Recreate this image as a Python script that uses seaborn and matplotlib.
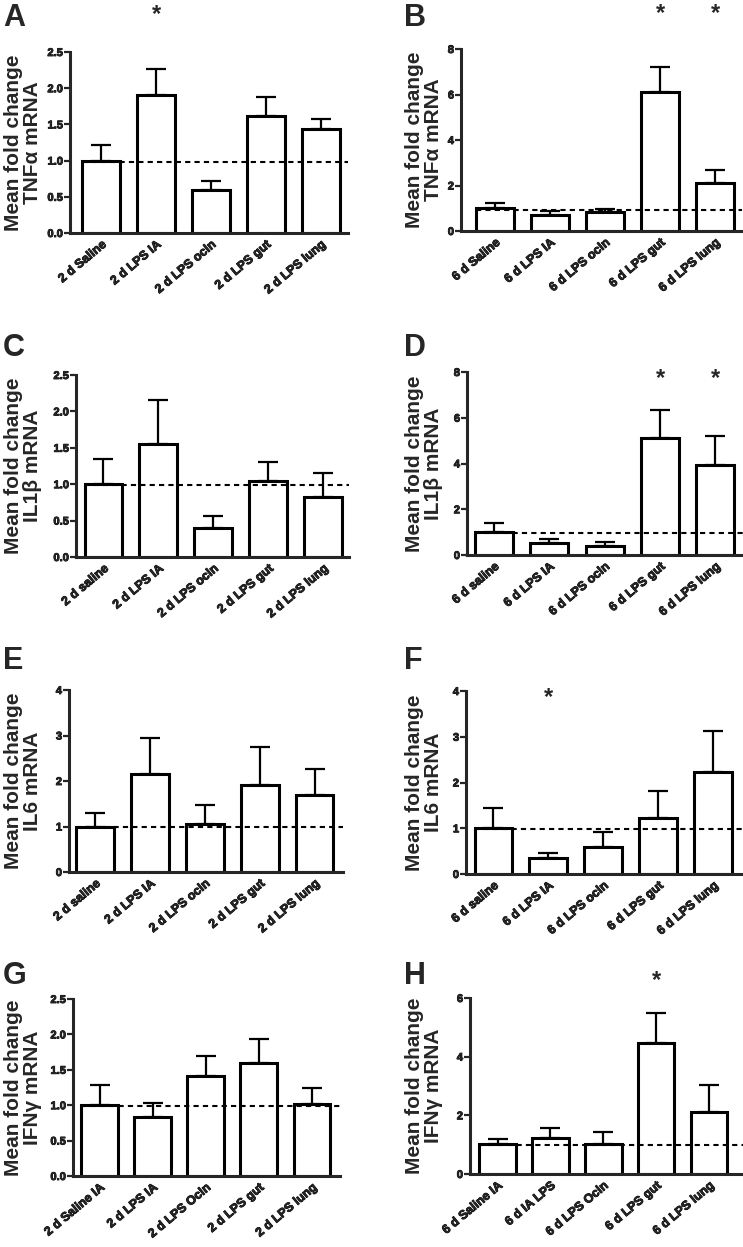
import matplotlib
matplotlib.use('Agg')
import matplotlib.pyplot as plt
import matplotlib.patheffects as pe
import seaborn as sns
import pandas as pd

sns.set_style('ticks')
plt.rcParams['font.family'] = ['Liberation Sans', 'DejaVu Sans']
plt.rcParams['font.weight'] = 'bold'
plt.rcParams['axes.labelweight'] = 'bold'

W, H = 743, 1247

# ---------------- data ----------------
cats_A = ["2 d Saline", "2 d LPS IA", "2 d LPS ocln", "2 d LPS gut", "2 d LPS lung"]
mean_A = [1.00, 1.90, 0.59, 1.62, 1.43]
top_A = [1.22, 2.27, 0.72, 1.88, 1.58]
star_A = [1]

cats_B = ["6 d Saline", "6 d LPS IA", "6 d LPS ocln", "6 d LPS gut", "6 d LPS lung"]
mean_B = [1.00, 0.72, 0.85, 6.10, 2.10]
top_B = [1.22, 0.90, 0.98, 7.22, 2.70]
star_B = [3, 4]

cats_C = ["2 d saline", "2 d LPS IA", "2 d LPS ocln", "2 d LPS gut", "2 d LPS lung"]
mean_C = [1.00, 1.55, 0.40, 1.05, 0.82]
top_C = [1.35, 2.15, 0.57, 1.30, 1.15]
star_C = []

cats_D = ["6 d saline", "6 d LPS IA", "6 d LPS ocln", "6 d LPS gut", "6 d LPS lung"]
mean_D = [1.00, 0.52, 0.40, 5.12, 3.92]
top_D = [1.38, 0.72, 0.55, 6.32, 5.22]
star_D = [3, 4]

cats_E = ["2 d saline", "2 d LPS IA", "2 d LPS ocln", "2 d LPS gut", "2 d LPS lung"]
mean_E = [1.00, 2.15, 1.05, 1.92, 1.70]
top_E = [1.30, 2.95, 1.48, 2.75, 2.27]
star_E = []

cats_F = ["6 d saline", "6 d LPS IA", "6 d LPS ocln", "6 d LPS gut", "6 d LPS lung"]
mean_F = [1.00, 0.36, 0.60, 1.23, 2.22]
top_F = [1.45, 0.45, 0.92, 1.82, 3.12]
star_F = [1]

cats_G = ["2 d Saline IA", "2 d LPS IA", "2 d LPS Ocln", "2 d LPS gut", "2 d LPS lung"]
mean_G = [1.00, 0.84, 1.41, 1.59, 1.02]
top_G = [1.29, 1.03, 1.69, 1.93, 1.25]
star_G = []

cats_H = ["6 d Saline IA", "6 d IA LPS", "6 d LPS Ocln", "6 d LPS gut", "6 d LPS lung"]
mean_H = [1.02, 1.22, 1.02, 4.45, 2.12]
top_H = [1.20, 1.57, 1.42, 5.50, 3.02]
star_H = [3]

ylabels = ["Mean fold change\nTNF\u03b1 mRNA", "Mean fold change\nTNF\u03b1 mRNA",
           "Mean fold change\nIL1\u03b2 mRNA", "Mean fold change\nIL1\u03b2 mRNA",
           "Mean fold change\nIL6 mRNA", "Mean fold change\nIL6 mRNA",
           "Mean fold change\nIFN\u03b3 mRNA", "Mean fold change\nIFN\u03b3 mRNA"]
letters = ["A", "B", "C", "D", "E", "F", "G", "H"]
ref_level = [0.98, 0.93, 0.99, 0.97, 0.99, 0.99, 0.99, 1.00]
y_max = [2.5, 8, 2.5, 8, 4, 4, 2.5, 6]
y_step = [0.5, 2, 0.5, 2, 1, 1, 0.5, 2]
star_y = [3.02, 9.55, 0, 7.7, 0, 3.85, 0, 6.6]

cats_all = [cats_A, cats_B, cats_C, cats_D, cats_E, cats_F, cats_G, cats_H]
mean_all = [mean_A, mean_B, mean_C, mean_D, mean_E, mean_F, mean_G, mean_H]
top_all = [top_A, top_B, top_C, top_D, top_E, top_F, top_G, top_H]
star_all = [star_A, star_B, star_C, star_D, star_E, star_F, star_G, star_H]

# ---------------- layout (pixels) ----------------
boxes = [(70, 52, 348, 233), (461, 49, 742, 231),
         (76, 375, 349, 557), (467, 372, 743, 555),
         (69, 690, 343, 872), (466, 691, 743, 874),
         (73, 999, 340, 1176), (470, 998, 743, 1174)]
xlims = [(-0.57, 4.5), (-0.62, 4.49), (-0.5, 4.47), (-0.49, 4.5),
         (-0.48, 4.52), (-0.5, 4.54), (-0.5, 4.53), (-0.52, 4.64)]
letter_pos = [(3, 3), (404, 3), (3, 333), (404, 333),
              (3, 646), (404, 646), (3, 961), (404, 961)]
ylabel_x = [23, 424, 23, 424, 23, 424, 23, 424]

heavy = [pe.withStroke(linewidth=0.6, foreground="black")]

fig = plt.figure(figsize=(W / 100, H / 100), dpi=100)

for i in range(8):
    l, t, r, b = boxes[i]
    ax = fig.add_axes([l / W, 1 - b / H, (r - l) / W, (b - t) / H])
    df = pd.DataFrame({"cat": cats_all[i], "val": mean_all[i]})
    sns.barplot(data=df, x="cat", y="val", ax=ax, color="white",
                edgecolor="black", linewidth=2.2, width=0.69,
                errorbar=None, zorder=2)
    # upper-only error bars
    xs = list(range(len(cats_all[i])))
    up = [tp - m for tp, m in zip(top_all[i], mean_all[i])]
    ax.errorbar(xs, mean_all[i], yerr=[[0] * len(xs), up], fmt="none",
                ecolor="black", elinewidth=1.6, capsize=7, capthick=1.6,
                zorder=1.5)
    ax.set_xlim(*xlims[i])
    ax.set_ylim(0, y_max[i])
    n = int(round(y_max[i] / y_step[i]))
    ticks = [k * y_step[i] for k in range(n + 1)]
    ax.set_yticks(ticks)
    if y_step[i] < 1:
        ax.set_yticklabels([f"{v:.1f}" for v in ticks])
    else:
        ax.set_yticklabels([f"{int(v)}" for v in ticks])
    ax.hlines(ref_level[i], -0.35, xlims[i][1], colors="black",
              linestyles=(0, (2.5, 2.0)), linewidth=1.5, zorder=4)
    ax.set_xlabel("")
    ax.set_ylabel("")
    ax.set_xticks(xs)
    ax.set_xticklabels(cats_all[i], rotation=40, ha="right",
                       rotation_mode="anchor", fontsize=9, fontweight="bold")
    ax.tick_params(axis="x", length=0, pad=4)
    ax.tick_params(axis="y", length=4, width=1.6, direction="out",
                   labelsize=8, pad=1)
    for lab in ax.get_yticklabels() + ax.get_xticklabels():
        lab.set_fontweight("bold")
        lab.set_path_effects(heavy)
    sns.despine(ax=ax)
    for s in ("left", "bottom"):
        ax.spines[s].set_linewidth(2.2)
    for k in star_all[i]:
        ax.text(k, star_y[i], "*", ha="center", va="center", fontsize=17,
                fontweight="bold", clip_on=False)
    # labels
    fig.text(ylabel_x[i] / W, 1 - ((t + b) / 2) / H, ylabels[i],
             rotation=90, ha="center", va="center", multialignment="center",
             fontsize=15, fontweight="bold", linespacing=1.05)
    lx, ly = letter_pos[i]
    fig.text(lx / W, 1 - ly / H, letters[i], ha="left", va="top",
             fontsize=22, fontweight="bold")

fig.savefig("out.png", dpi=100)
